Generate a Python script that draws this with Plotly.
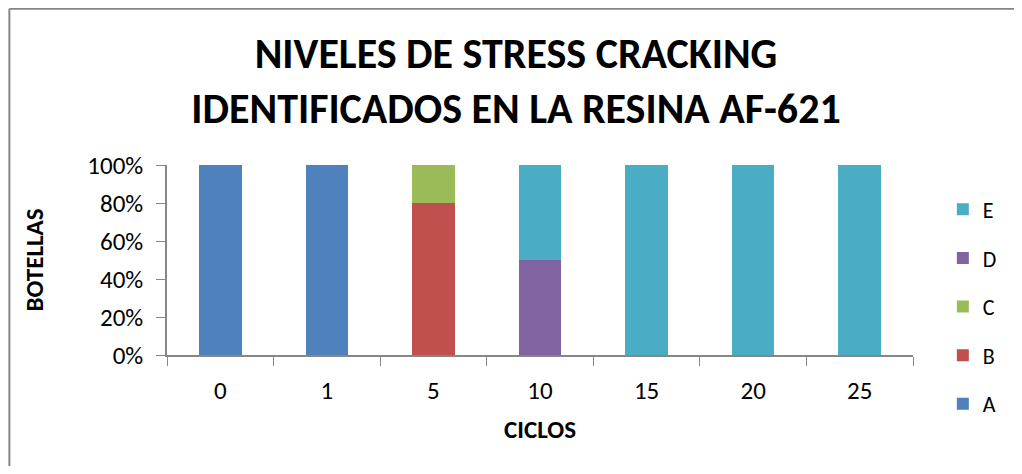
import plotly.graph_objects as go

ciclos = ["0", "1", "5", "10", "15", "20", "25"]
nivel_a = [100, 100, 0, 0, 0, 0, 0]
nivel_b = [0, 0, 80, 0, 0, 0, 0]
nivel_c = [0, 0, 20, 0, 0, 0, 0]
nivel_d = [0, 0, 0, 50, 0, 0, 0]
nivel_e = [0, 0, 0, 50, 100, 100, 100]

series = [("A", nivel_a, "#4F81BD"), ("B", nivel_b, "#C0504D"), ("C", nivel_c, "#9BBB59"),
          ("D", nivel_d, "#8064A2"), ("E", nivel_e, "#4BACC6")]

font = "Calibri, Carlito, Lato, sans-serif"
grey = "#868686"

fig = go.Figure()
for i, (name, vals, col) in enumerate(series):
    fig.add_trace(go.Bar(x=ciclos, y=vals, name=name, marker=dict(color=col, line=dict(width=0)),
                         legendgroup=name, legendrank=len(series) - i))

# page body has an 8px margin, so the figure is sized to fit inside the window
fig.update_layout(
    width=1006, height=458, barmode="stack", bargap=0.6,
    plot_bgcolor="white", paper_bgcolor="white",
    margin=dict(l=159, r=92, t=157, b=111),
    font=dict(family=font, color="black"),
    title=dict(text="<b>NIVELES DE STRESS CRACKING<br>IDENTIFICADOS EN LA RESINA AF-621</b>",
               x=0.505, xanchor="center", xref="container", y=0.869, yanchor="middle",
               yref="container", font=dict(size=42)),
    legend=dict(x=1.04, xanchor="left", y=0.876, yanchor="top", traceorder="grouped",
                tracegroupgap=17, font=dict(size=22), maxheight=400),
)
fig.update_xaxes(type="category", showline=True, linecolor=grey, linewidth=1.5,
                 ticks="outside", tickson="boundaries", ticklen=9, tickcolor=grey,
                 tickfont=dict(size=25), ticklabelstandoff=12,
                 title=dict(text="<b>CICLOS</b>", font=dict(size=25), standoff=16))
fig.update_yaxes(range=[0, 100], dtick=20, ticksuffix="%", showgrid=False, zeroline=False,
                 showline=True, linecolor=grey, linewidth=1.5, ticks="outside", ticklen=9,
                 tickcolor=grey, tickfont=dict(size=25), ticklabelstandoff=8,
                 title=dict(text="<b>BOTELLAS</b>", font=dict(size=25), standoff=37))

# chart-area border: left and top edges
fig.add_shape(type="line", xref="paper", yref="paper", x0=-0.2113, x1=-0.2113, y0=-0.6, y1=1.823,
              line=dict(color=grey, width=2))
fig.add_shape(type="line", xref="paper", yref="paper", x0=-0.2113, x1=1.2, y0=1.823, y1=1.823,
              line=dict(color=grey, width=2))

fig.write_html("out.html")
